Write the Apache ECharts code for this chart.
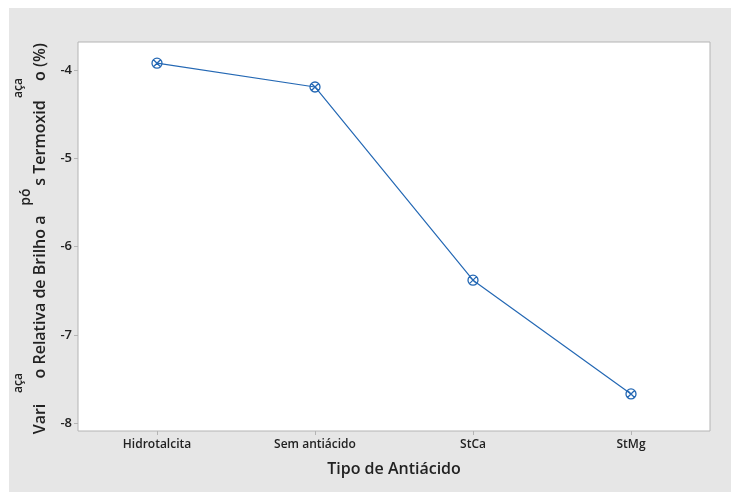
<!DOCTYPE html>
<html><head><meta charset="utf-8">
<script src="https://cdn.jsdelivr.net/npm/echarts@6/dist/echarts.min.js"></script>
<style>html,body{margin:0;padding:0;background:#fff}#c{width:731px;height:492px}</style>
</head><body><div id="c"></div>
<script>
const categories = ['Hidrotalcita', 'Sem antiácido', 'StCa', 'StMg'];
const values = [-3.92, -4.19, -6.38, -7.67];
const yTicks = [-8, -7, -6, -5, -4];
const xTitle = 'Tipo de Antiácido';

const chart = echarts.init(document.getElementById('c'), null, {renderer: 'canvas'});
const FONT = '"Open Sans", "Noto Sans", sans-serif';
const BLUE = '#2468b4';
const sym = 'path://M0,-5A5,5 0 1,1 0,5A5,5 0 1,1 0,-5ZM-3.5,-3.5L3.5,3.5M-3.5,3.5L3.5,-3.5';

function vtext(x, y, text, size, weight) {
  return {type: 'text', x: x, y: y, rotation: Math.PI / 2,
    style: {text: text, fontSize: size, fontFamily: FONT, fontWeight: weight || 600, fill: '#222',
      align: 'center', verticalAlign: 'middle'}};
}

chart.setOption({
  backgroundColor: '#ffffff',
  graphic: [
    {type: 'rect', shape: {x: 9, y: 8, width: 722, height: 484}, style: {fill: '#e6e6e6'}, z: -10, silent: true},
    vtext(40, 419, 'Vari', 16),
    vtext(40, 297, 'o Relativa de Brilho a', 16),
    vtext(40, 143, 's Termoxid', 16),
    vtext(40, 62, 'o (%)', 16),
    vtext(19, 88, 'aça', 12),
    vtext(19, 383, 'aça', 12),
    vtext(26, 197, 'pó', 14)
  ],
  grid: {left: 78, top: 42, right: 21, bottom: 61, show: true, backgroundColor: '#ffffff',
    borderColor: '#b4b4b4', borderWidth: 1},
  xAxis: {
    type: 'category', data: categories, boundaryGap: true,
    name: xTitle, nameLocation: 'middle', nameGap: 30,
    nameTextStyle: {fontSize: 16, fontFamily: FONT, fontWeight: 600, color: '#222'},
    axisLine: {show: false},
    axisTick: {show: true, alignWithLabel: true, length: 4, lineStyle: {color: '#b4b4b4'}},
    axisLabel: {fontSize: 12, fontFamily: FONT, fontWeight: 600, color: '#222', margin: 8, letterSpacing: -0.3},
    splitLine: {show: false}
  },
  yAxis: {
    type: 'value', min: -8.09, max: -3.68,
    axisLine: {show: false},
    axisTick: {show: true, length: 4, lineStyle: {color: '#b4b4b4'},
      customValues: yTicks},
    axisLabel: {fontSize: 13, fontFamily: FONT, fontWeight: 600, color: '#222', margin: 6,
      customValues: yTicks},
    splitLine: {show: false}
  },
  series: [{
    type: 'line', data: values,
    lineStyle: {color: BLUE, width: 1.2},
    symbol: sym, symbolSize: 10,
    itemStyle: {color: 'rgba(0,0,0,0)', borderColor: BLUE, borderWidth: 1.3},
    emphasis: {disabled: true},
    animation: false
  }],
  animation: false
});
</script></body></html>
